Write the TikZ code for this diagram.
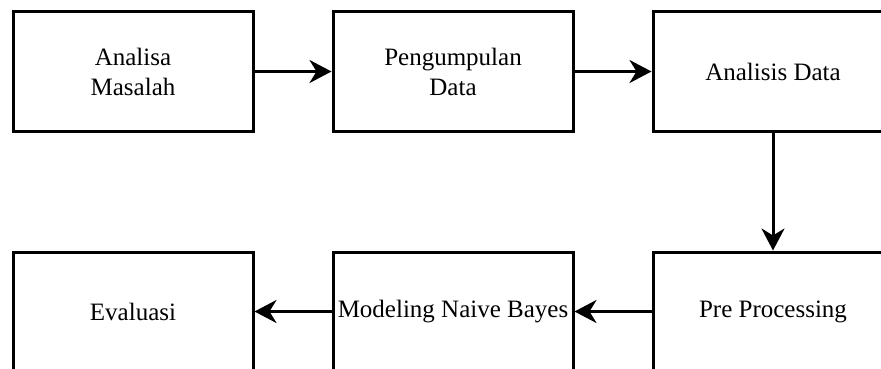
\documentclass[tikz,border=0pt]{standalone}
\usepackage{fontspec}
\setmainfont{Liberation Serif}
\usetikzlibrary{arrows.meta}
\tikzset{
	stepbox/.style={draw, line width=3pt, minimum width=240pt, minimum height=119pt, inner sep=0pt, align=center, font=\fontsize{25}{30}\selectfont},
	flow/.style={line width=3pt, -{Stealth[length=22pt, width=23pt, inset=7pt]}}
}
\begin{document}
\begin{tikzpicture}[x=1pt, y=-1pt]
	\useasboundingbox (0,0) rectangle (881,369);
	\clip (0,0) rectangle (881,369);

	\node[stepbox] at (133,71.5) (masalah) {Analisa\\Masalah}; %step 1
	\node[stepbox] at (453,71.5) (kumpul) {Pengumpulan\\Data}; %step 2
	\node[stepbox] at (773,71.5) (analisis) {Analisis Data}; %step 3
	\node[stepbox] at (773,311.5) (prepro) {Pre Processing}; %step 4
	\node[stepbox] at (453,311.5) (model) {Modeling Naive Bayes}; %step 5
	\node[stepbox] at (133,311.5) (eval) {Evaluasi}; %step 6

	\draw[flow] (masalah) -- (kumpul);
	\draw[flow] (kumpul) -- (analisis);
	\draw[flow] (analisis) -- (prepro);
	\draw[flow] (prepro) -- (model);
	\draw[flow] (model) -- (eval);
\end{tikzpicture}
\end{document}
